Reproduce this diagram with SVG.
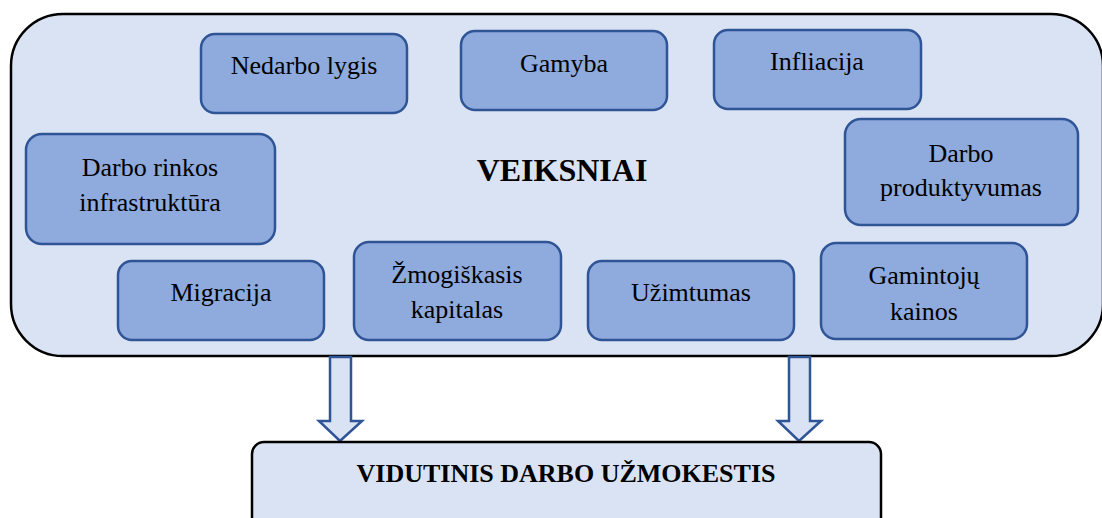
<svg xmlns="http://www.w3.org/2000/svg" width="1102" height="518" viewBox="0 0 1102 518">
  <style>
    .outer { fill: #DAE3F3; stroke: #000000; stroke-width: 2.5; }
    .node rect { fill: #8FAADC; stroke: #2F5597; stroke-width: 2.5; }
    .node text { font-family: "Liberation Serif", "Times New Roman", serif; font-size: 26px; fill: #000000; text-anchor: middle; }
    .title { font-family: "Liberation Serif", "Times New Roman", serif; font-weight: bold; fill: #000000; text-anchor: middle; }
    .arrow { fill: #DAE3F3; stroke: #2F5597; stroke-width: 2.5; stroke-linejoin: miter; }
  </style>
  <rect width="1102" height="518" fill="#FFFFFF"/>

  <g id="veiksniai">
    <rect class="outer" x="11" y="14" width="1092" height="342" rx="52" ry="52"/>
    <text class="title" x="562" y="181" font-size="32">VEIKSNIAI</text>
  </g>

  <g id="nedarbo-lygis" class="node">
    <rect x="201" y="34" width="206" height="79" rx="14"/>
    <text x="304" y="74">Nedarbo lygis</text>
  </g>
  <g id="gamyba" class="node">
    <rect x="461" y="31" width="206" height="79" rx="14"/>
    <text x="564" y="72">Gamyba</text>
  </g>
  <g id="infliacija" class="node">
    <rect x="714" y="30" width="207" height="79" rx="14"/>
    <text x="817" y="70">Infliacija</text>
  </g>
  <g id="darbo-rinkos-infrastruktura" class="node">
    <rect x="26" y="134" width="249" height="110" rx="16"/>
    <text x="150" y="176">Darbo rinkos</text>
    <text x="150" y="211">infrastruktūra</text>
  </g>
  <g id="darbo-produktyvumas" class="node">
    <rect x="845" y="119" width="233" height="106" rx="16"/>
    <text x="961" y="162">Darbo</text>
    <text x="961" y="196">produktyvumas</text>
  </g>
  <g id="migracija" class="node">
    <rect x="118" y="261" width="206" height="79" rx="14"/>
    <text x="221" y="301">Migracija</text>
  </g>
  <g id="zmogiskasis-kapitalas" class="node">
    <rect x="354" y="242" width="207" height="98" rx="15"/>
    <text x="457" y="283">Žmogiškasis</text>
    <text x="457" y="318">kapitalas</text>
  </g>
  <g id="uzimtumas" class="node">
    <rect x="588" y="261" width="206" height="79" rx="14"/>
    <text x="691" y="301">Užimtumas</text>
  </g>
  <g id="gamintoju-kainos" class="node">
    <rect x="821" y="243" width="206" height="96" rx="15"/>
    <text x="924" y="284">Gamintojų</text>
    <text x="924" y="320">kainos</text>
  </g>

  <g id="connectors">
    <path class="arrow" d="M330,357 L351,357 L351,421 L362,421 L340,441 L319,421 L330,421 Z"/>
    <path class="arrow" d="M789,357 L810,357 L810,421 L821,421 L799,441 L778,421 L789,421 Z"/>
  </g>

  <g id="vidutinis-darbo-uzmokestis">
    <rect class="outer" x="252" y="442" width="629" height="100" rx="12" ry="12"/>
    <text class="title" x="566" y="482" font-size="26">VIDUTINIS DARBO UŽMOKESTIS</text>
  </g>
</svg>
